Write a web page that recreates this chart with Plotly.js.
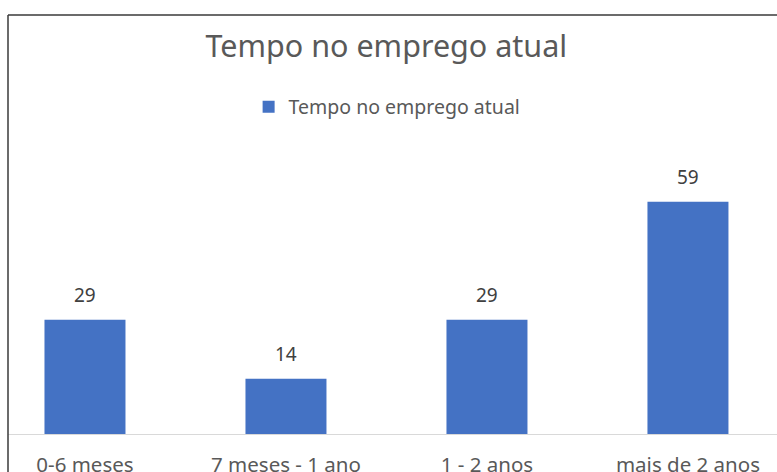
<!DOCTYPE html>
<html>
<head>
<meta charset="utf-8">
<script src="https://cdn.plot.ly/plotly-3.0.1.min.js"></script>
<style>html,body{margin:0;padding:0;background:#fff;}#chart{width:777px;height:472px;}</style>
</head>
<body>
<div id="chart"></div>
<script>
const categories = ["0-6 meses", "7 meses - 1 ano", "1 - 2 anos", "mais de 2 anos"];
const values = [29, 14, 29, 59];
const seriesName = "Tempo no emprego atual";
const chartTitle = "Tempo no emprego atual";

const FONT = "Noto Sans, Open Sans, sans-serif";

const trace = {
  type: "bar",
  x: categories,
  y: values,
  name: seriesName,
  marker: {color: "#4472c4"},
  hoverinfo: "x+y",
  showlegend: true
};

const annotations = categories.map((c, i) => ({
  x: c, y: values[i], xref: "x", yref: "y",
  text: String(values[i]), showarrow: false,
  yanchor: "middle", yshift: 25,
  font: {family: FONT, size: 19, color: "#404040"}
}));

const layout = {
  width: 777, height: 472,
  margin: {l: 8, r: 0, t: 15, b: 38, pad: 0},
  paper_bgcolor: "#ffffff", plot_bgcolor: "#ffffff",
  title: {
    text: chartTitle,
    x: 0.492, xref: "paper", xanchor: "center",
    y: 1 - 46/472, yref: "container", yanchor: "middle",
    font: {family: FONT, size: 30.5, color: "#595959"}
  },
  showlegend: true,
  legend: {
    orientation: "h", x: 0.493, xanchor: "center",
    y: (434-107)/419, yanchor: "middle",
    font: {family: FONT, size: 19.5, color: "#595959"},
    bgcolor: "rgba(0,0,0,0)"
  },
  bargap: 0.597,
  xaxis: {
    type: "category",
    range: [-0.383, 3.443],
    showgrid: false, zeroline: false,
    showline: true, linecolor: "#d9d9d9", linewidth: 1,
    ticks: "outside", ticklen: 12, tickcolor: "rgba(0,0,0,0)",
    tickfont: {family: FONT, size: 20.5, color: "#595959"},
    fixedrange: true
  },
  yaxis: {
    range: [0, 106.4],
    showgrid: false, zeroline: false, showline: false,
    showticklabels: false, ticks: "",
    fixedrange: true
  },
  annotations: annotations,
  shapes: [
    {type: "line", xref: "paper", yref: "paper", x0: 0, x1: 1.02, y0: 1, y1: 1,
     line: {color: "#3a3a3a", width: 1.5}},
    {type: "line", xref: "paper", yref: "paper", x0: 0, x1: 0, y0: 1, y1: -0.2,
     line: {color: "#3a3a3a", width: 1.5}}
  ]
};

Plotly.newPlot("chart", [trace], layout, {displayModeBar: false, staticPlot: true});
</script>
</body>
</html>
